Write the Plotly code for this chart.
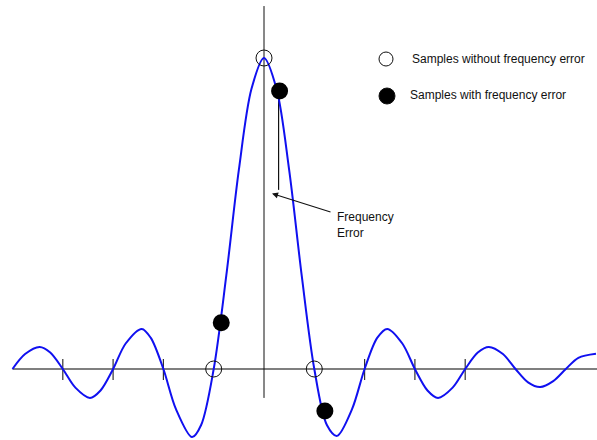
import plotly.graph_objects as go

# Curve samples (x in sample periods, y normalised to peak)
curve_x = [-5.0, -4.75, -4.46, -4.25, -4.0, -3.75, -3.46, -3.25, -3.0, -2.75, -2.43, -2.25,
           -2.0, -1.75, -1.43, -1.25, -1.0, -0.75, -0.5, -0.25,
           0.0, 0.25, 0.5, 0.75, 1.0, 1.25, 1.45, 1.75, 2.0, 2.25, 2.45, 2.75, 3.0, 3.25, 3.46,
           3.75, 4.0, 4.25, 4.47, 4.75, 5.0, 5.25, 5.49, 5.75, 6.0, 6.25, 6.6]
curve_y = [0.0, 0.048, 0.071, 0.053, 0.0, -0.060, -0.093, -0.069, 0.0, 0.082, 0.129, 0.100,
           0.0, -0.129, -0.219, -0.180, 0.0, 0.30, 0.64, 0.90,
           1.0, 0.90, 0.64, 0.30, 0.0, -0.180, -0.215, -0.129, 0.0, 0.100, 0.129, 0.082, 0.0, -0.069, -0.093,
           -0.060, 0.0, 0.053, 0.071, 0.048, 0.0, -0.043, -0.058, -0.039, 0.0, 0.036, 0.049]

# Samples without frequency error
ideal_x = [-1.0, 0.0, 1.0]
ideal_y = [0.0, 1.0, 0.0]

# Samples with frequency error
err_x = [-0.85, 0.31, 1.21]
err_y = [0.149, 0.894, -0.135]

tick_positions = [-4, -3, -2, 2, 3, 4]

legend_labels = ["Samples without frequency error", "Samples with frequency error"]
annotation_text = "Frequency<br>Error"

W, H = 597, 440
X0_PX, UNIT_PX = 264.0, 50.3
Y0_PX, AMP_PX = 369.0, 311.0
x_range = [(0 - X0_PX) / UNIT_PX, (W - X0_PX) / UNIT_PX]
y_range = [(Y0_PX - H) / AMP_PX, (Y0_PX - 0) / AMP_PX]

FONT = "Liberation Sans, Arial, sans-serif"
FS = 12

fig = go.Figure()

shapes = []
# horizontal axis
shapes.append(dict(type="line", xref="x", yref="y", x0=-5.0, x1=x_range[1], y0=0, y1=0,
                   line=dict(color="#555555", width=1.6), layer="below"))
# vertical axis
shapes.append(dict(type="line", xref="x", yref="y", x0=0, x1=0, y0=1.167, y1=-0.093,
                   line=dict(color="#111111", width=1), layer="below"))
# tick marks
for t in tick_positions:
    shapes.append(dict(type="line", xref="x", yref="y", x0=t, x1=t, y0=0.032, y1=-0.035,
                       line=dict(color="#333333", width=1.2), layer="below"))
# vertical drop line from the offset peak sample
shapes.append(dict(type="line", xref="x", yref="y", x0=0.29, x1=0.29, y0=0.894, y1=0.576,
                   line=dict(color="#111111", width=1.2), layer="below"))

# legend symbols (paper coordinates)
def circ(cx, cy, d, fill, lw):
    return dict(type="circle", xref="paper", yref="paper",
                x0=(cx - d / 2) / W, x1=(cx + d / 2) / W,
                y0=1 - (cy + d / 2) / H, y1=1 - (cy - d / 2) / H,
                fillcolor=fill, line=dict(color="#111111", width=lw))

shapes.append(circ(386, 59, 14, "white", 1))
shapes.append(circ(387, 96, 16, "black", 1))

fig.add_trace(go.Scatter(x=curve_x, y=curve_y, mode="lines",
                         line=dict(color="#1010f0", width=2, shape="spline", smoothing=0.9),
                         hoverinfo="skip", showlegend=False))
fig.add_trace(go.Scatter(x=ideal_x, y=ideal_y, mode="markers",
                         marker=dict(symbol="circle-open", size=16, color="#111111",
                                     line=dict(width=1, color="#111111")),
                         showlegend=False))
fig.add_trace(go.Scatter(x=err_x, y=err_y, mode="markers",
                         marker=dict(symbol="circle", size=17, color="black"),
                         showlegend=False))

annotations = [
    dict(xref="paper", yref="paper", x=410 / W, y=1 - 59 / H, xanchor="left", yanchor="middle",
         text=legend_labels[0], showarrow=False, font=dict(family=FONT, size=FS, color="#111111")),
    dict(xref="paper", yref="paper", x=408 / W, y=1 - 95 / H, xanchor="left", yanchor="middle",
         text=legend_labels[1], showarrow=False, font=dict(family=FONT, size=FS, color="#111111")),
    dict(xref="paper", yref="paper", x=335 / W, y=1 - 225 / H, xanchor="left", yanchor="middle",
         text=annotation_text, align="left", showarrow=False,
         font=dict(family=FONT, size=FS, color="#111111")),
    dict(xref="x", yref="y", axref="x", ayref="y",
         x=(272 - X0_PX) / UNIT_PX, y=(Y0_PX - 193.5) / AMP_PX,
         ax=(332 - X0_PX) / UNIT_PX, ay=(Y0_PX - 212.5) / AMP_PX,
         text="", showarrow=True, arrowhead=2, arrowsize=1.1, arrowwidth=1.1,
         arrowcolor="#111111", standoff=0),
]

fig.update_layout(
    width=W, height=H,
    margin=dict(l=0, r=0, t=0, b=0),
    paper_bgcolor="white", plot_bgcolor="white",
    xaxis=dict(range=x_range, visible=False, fixedrange=True),
    yaxis=dict(range=y_range, visible=False, fixedrange=True),
    shapes=shapes, annotations=annotations,
    showlegend=False,
)

fig.write_html("out.html")
